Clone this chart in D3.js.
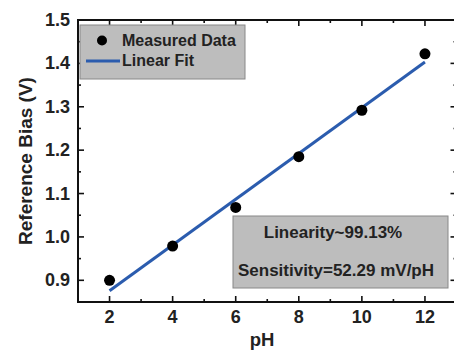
<!DOCTYPE html>
<html>
<head>
<meta charset="utf-8">
<script src="https://cdn.jsdelivr.net/npm/d3@7"></script>
<style>
  body { margin: 0; background: #fff; }
  text { font-family: Arial, "Liberation Sans", sans-serif; font-weight: bold; fill: #222; }
</style>
</head>
<body>
<svg id="chart" width="454" height="351"></svg>
<script>
// measured data
const phValues = [2, 4, 6, 8, 10, 12];
const biasValues = [0.90, 0.979, 1.068, 1.185, 1.292, 1.422];
// linear fit end points
const fitPh = [2, 12];
const fitBias = [0.876, 1.403];
const xTicks = [2, 4, 6, 8, 10, 12];
const yTicks = [0.9, 1.0, 1.1, 1.2, 1.3, 1.4, 1.5];

const width = 454, height = 351;
const margin = { left: 78, top: 20, right: -2.5, bottom: 49 };

const svg = d3.select('#chart');

const x = d3.scaleLinear().domain([1, 13]).range([margin.left, width - margin.right]);
const y = d3.scaleLinear().domain([0.85, 1.5]).range([height - margin.bottom, margin.top]);

const minorX = d3.range(1, 14, 1).filter(d => d % 2 === 1);
const minorY = d3.range(0.85, 1.5, 0.1).map(d => +d.toFixed(2));

// frame
svg.append('rect')
  .attr('x', x(1)).attr('y', y(1.5))
  .attr('width', x(13) - x(1)).attr('height', y(0.85) - y(1.5))
  .attr('fill', 'none').attr('stroke', '#111').attr('stroke-width', 2);

// ticks (inward)
const tickG = svg.append('g').attr('stroke', '#111').attr('stroke-width', 1.6);
xTicks.forEach(d => {
  tickG.append('line').attr('x1', x(d)).attr('x2', x(d)).attr('y1', y(0.85)).attr('y2', y(0.85) - 6);
  tickG.append('line').attr('x1', x(d)).attr('x2', x(d)).attr('y1', y(1.5)).attr('y2', y(1.5) + 6);
});
minorX.forEach(d => {
  tickG.append('line').attr('x1', x(d)).attr('x2', x(d)).attr('y1', y(0.85)).attr('y2', y(0.85) - 3);
  tickG.append('line').attr('x1', x(d)).attr('x2', x(d)).attr('y1', y(1.5)).attr('y2', y(1.5) + 3);
});
yTicks.forEach(d => {
  tickG.append('line').attr('x1', x(1)).attr('x2', x(1) + 6).attr('y1', y(d)).attr('y2', y(d));
  tickG.append('line').attr('x1', x(13)).attr('x2', x(13) - 6).attr('y1', y(d)).attr('y2', y(d));
});
minorY.forEach(d => {
  tickG.append('line').attr('x1', x(1)).attr('x2', x(1) + 3).attr('y1', y(d)).attr('y2', y(d));
  tickG.append('line').attr('x1', x(13)).attr('x2', x(13) - 3).attr('y1', y(d)).attr('y2', y(d));
});

// tick labels
svg.append('g').selectAll('text').data(xTicks).enter().append('text')
  .attr('x', d => x(d)).attr('y', y(0.85) + 21)
  .attr('text-anchor', 'middle').style('font-size', '18px')
  .text(d => d);

svg.append('g').selectAll('text').data(yTicks).enter().append('text')
  .attr('x', x(1) - 8).attr('y', d => y(d) + 6)
  .attr('text-anchor', 'end').style('font-size', '18px')
  .text(d => d.toFixed(1));

// axis titles
svg.append('text')
  .attr('x', 262).attr('y', 345.5)
  .attr('text-anchor', 'middle').style('font-size', '18.5px')
  .text('pH');

svg.append('text')
  .attr('transform', `translate(31.5, ${(y(0.85) + y(1.5)) / 2}) rotate(-90)`)
  .attr('text-anchor', 'middle').style('font-size', '19px')
  .text('Reference Bias (V)');

// fit line
const fitData = fitPh.map((d, i) => [d, fitBias[i]]);
svg.append('path')
  .datum(fitData)
  .attr('d', d3.line().x(d => x(d[0])).y(d => y(d[1])))
  .attr('stroke', '#2b5cae').attr('stroke-width', 3).attr('fill', 'none');

// points
svg.append('g').selectAll('circle').data(phValues).enter().append('circle')
  .attr('cx', d => x(d)).attr('cy', (d, i) => y(biasValues[i]))
  .attr('r', 5.5).attr('fill', '#000');

// legend
const legend = svg.append('g');
legend.append('rect')
  .attr('x', 80).attr('y', 25).attr('width', 165).attr('height', 54)
  .attr('fill', '#bdbdbd').attr('stroke', '#888').attr('stroke-width', 1);
legend.append('circle').attr('cx', 102).attr('cy', 40.5).attr('r', 5).attr('fill', '#000');
legend.append('line').attr('x1', 86).attr('x2', 120).attr('y1', 61).attr('y2', 61)
  .attr('stroke', '#2b5cae').attr('stroke-width', 3);
legend.append('text').attr('x', 122).attr('y', 46).style('font-size', '16px').text('Measured Data');
legend.append('text').attr('x', 122).attr('y', 66).style('font-size', '16px').text('Linear Fit');

// annotation
const note = svg.append('g');
note.append('rect')
  .attr('x', 233).attr('y', 216).attr('width', 215).attr('height', 72)
  .attr('fill', '#bdbdbd').attr('stroke', '#888').attr('stroke-width', 1);
note.append('text').attr('x', 333).attr('y', 238).attr('text-anchor', 'middle')
  .style('font-size', '17px').text('Linearity~99.13%');
note.append('text').attr('x', 336).attr('y', 276).attr('text-anchor', 'middle')
  .style('font-size', '17px').text('Sensitivity=52.29 mV/pH');
</script>
</body>
</html>
